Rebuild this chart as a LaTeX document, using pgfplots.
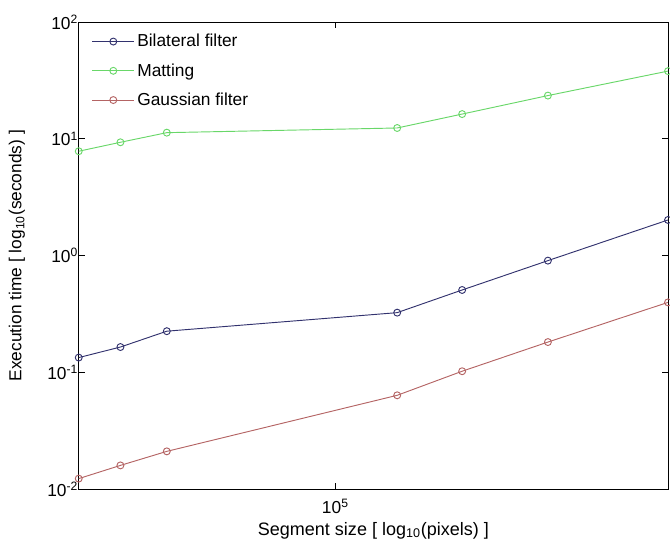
\documentclass[border=0pt]{standalone}
\usepackage{pgfplots}
\pgfplotsset{compat=1.18}
\usetikzlibrary{calc}
\usepackage{fontspec}
\setmainfont{Liberation Sans}

\definecolor{bilat}{RGB}{50,50,110}
\definecolor{matting}{RGB}{105,215,105}
\definecolor{gauss}{RGB}{180,100,100}

\begin{document}
\begin{tikzpicture}
\begin{axis}[
    name=ax,
    scale only axis,
    width=441.75pt,
    height=350.25pt,
    xmode=log, ymode=log,
    log basis x=10, log basis y=10,
    xmin=17960, xmax=926800,
    ymin=0.01, ymax=100,
    xtick={100000},
    xticklabels={10\textsuperscript{5}},
    ytick={0.01,0.1,1,10,100},
    yticklabels={10\textsuperscript{-2},10\textsuperscript{-1},10\textsuperscript{0},10\textsuperscript{1},10\textsuperscript{2}},
    tick align=inside,
    major tick length=4.5pt,
    minor tick length=3.5pt,
    tick style={black, line width=0.5pt},
    axis line style={line width=0.6pt},
    font=\fontsize{13}{15.5}\selectfont,
    tick label style={font=\fontsize{13}{15.5}\selectfont},
    xticklabel style={yshift=-4pt},
    yticklabel style={xshift=3pt},
    xlabel={Segment size [ log\textsubscript{10}(pixels) ]},
    ylabel={Execution time [ log\textsubscript{10}(seconds) ]},
    xlabel style={at={(axis description cs:0.5,-0.088)}, anchor=center, font=\fontsize{13.5}{16}\selectfont},
    ylabel style={at={(axis description cs:-0.105,0.5)}, anchor=center},
    legend cell align=left,
    legend style={at={(axis description cs:0.022,0.98)}, anchor=north west,
        draw=none, fill=none, row sep=7pt, inner xsep=0pt, inner ysep=0pt,
        font=\fontsize{13}{15.5}\selectfont},
    legend image code/.code={\draw[mark repeat=2,mark phase=2] plot coordinates {(0cm,0cm) (0.55cm,0cm) (1.1cm,0cm)};},
    every axis plot/.append style={line width=0.7pt, mark=o, mark size=2.6pt},
]
\addplot[color=bilat] coordinates {
    (17960,0.134) (23740,0.165) (32380,0.2255) (151300,0.325)
    (233700,0.508) (414800,0.906) (926800,2.02)
};
\addlegendentry{Bilateral filter}
\addplot[color=matting] coordinates {
    (17960,7.83) (23740,9.34) (32380,11.29) (151300,12.38)
    (233700,16.29) (414800,23.45) (926800,38.0)
};
\addlegendentry{Matting}
\addplot[color=gauss] coordinates {
    (17960,0.01233) (23740,0.0160) (32380,0.0211) (151300,0.0637)
    (233700,0.1024) (414800,0.182) (926800,0.398)
};
\addlegendentry{Gaussian filter}
\end{axis}
\pgfresetboundingbox
\path ($(ax.south west)+(-59pt,-41pt)$) rectangle ($(ax.north east)+(1.5pt,16.5pt)$);
\end{tikzpicture}
\end{document}
